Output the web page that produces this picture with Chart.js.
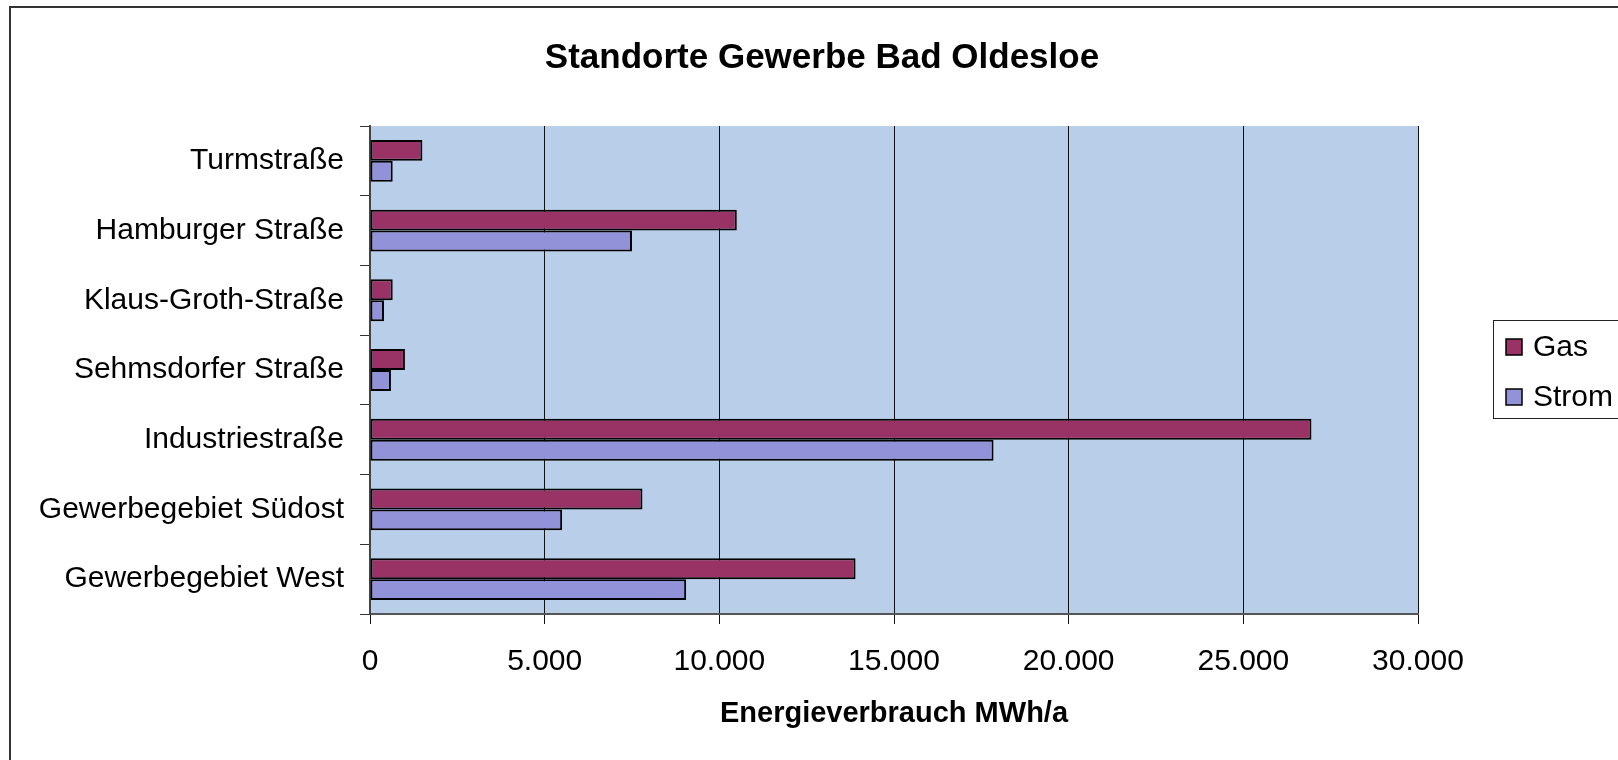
<!DOCTYPE html>
<html>
<head>
<meta charset="utf-8">
<title>Standorte Gewerbe Bad Oldesloe</title>
<script src="https://cdn.jsdelivr.net/npm/chart.js@4.4.1/dist/chart.umd.min.js"></script>
<style>
    html, body { margin: 0; padding: 0; background: #fff; }
    #chart { display: block; }
</style>
</head>
<body>
<canvas id="chart" width="1618" height="760"></canvas>
<script>
'use strict'
// Standorte (Kategorien)
const standorte = ['Turmstraße', 'Hamburger Straße', 'Klaus-Groth-Straße', 'Sehmsdorfer Straße',
    'Industriestraße', 'Gewerbegebiet Südost', 'Gewerbegebiet West'];
// Gas MWh/a
const gas = [1500, 10500, 650, 1000, 26950, 7800, 13900];
// Strom MWh/a
const strom = [650, 7500, 400, 600, 17850, 5500, 9050];
// x-Achse
const xMin = 0;
const xMax = 30000;
const xStep = 5000;

const FONT = '"Liberation Sans", Arial, sans-serif';

//==================================================================================================

/*Zahl mit Tausenderpunkt */
function toGerman(v) {
    return String(v).replace(/\B(?=(\d{3})+(?!\d))/g, '.');
}

/*Hintergrund, Rahmen und Plotfläche */
const backgroundPlugin = {
    id: 'background',
    beforeDraw(chart) {
        const ctx = chart.ctx;
        const a = chart.chartArea;
        ctx.save();
        ctx.fillStyle = '#fff';
        ctx.fillRect(0, 0, chart.width, chart.height);
        ctx.fillStyle = '#B9CEE9';
        ctx.fillRect(a.left, a.top, a.right - a.left, a.bottom - a.top);
        ctx.strokeStyle = '#333';
        ctx.lineWidth = 2;
        ctx.strokeRect(10, 7, 1700, 800);
        ctx.restore();
    }
};

/*Legende mit Rahmen rechts */
const legendPlugin = {
    id: 'boxLegend',
    afterDraw(chart) {
        const ctx = chart.ctx;
        ctx.save();
        ctx.strokeStyle = '#222';
        ctx.lineWidth = 1;
        ctx.strokeRect(1493.5, 320.5, 200, 98);
        ctx.font = '30px ' + FONT;
        ctx.textBaseline = 'middle';
        ctx.textAlign = 'left';
        chart.data.datasets.forEach((ds, i) => {
            const y = 347 + i * 50;
            ctx.fillStyle = ds.backgroundColor;
            ctx.fillRect(1506, y - 8, 16, 16);
            ctx.strokeStyle = '#000';
            ctx.lineWidth = 1.5;
            ctx.strokeRect(1506, y - 8, 16, 16);
            ctx.fillStyle = '#000';
            ctx.fillText(ds.label, 1533, y + 1);
        });
        ctx.restore();
    }
};

//==================================================================================================

new Chart(document.getElementById('chart'), {
    type: 'bar',
    data: {
        labels: standorte,
        datasets: [
            {
                label: 'Gas',
                data: gas,
                backgroundColor: '#993366',
                borderColor: '#000',
                borderWidth: 2,
                borderSkipped: false
            },
            {
                label: 'Strom',
                data: strom,
                backgroundColor: '#9292D8',
                borderColor: '#000',
                borderWidth: 2,
                borderSkipped: false
            }
        ]
    },
    options: {
        indexAxis: 'y',
        responsive: false,
        animation: false,
        datasets: {
            bar: { categoryPercentage: 0.6, barPercentage: 1.0 }
        },
        layout: {
            padding: { left: 26, right: 0, top: 0, bottom: 26 }
        },
        plugins: {
            legend: { display: false },
            tooltip: { enabled: false },
            title: {
                display: true,
                text: 'Standorte Gewerbe Bad Oldesloe',
                color: '#000',
                font: { family: FONT, size: 35, weight: 'bold' },
                padding: { top: 37, bottom: 47 }
            }
        },
        scales: {
            x: {
                min: xMin,
                max: xMax,
                afterFit(scale) { scale.height = 120; },
                ticks: {
                    stepSize: xStep,
                    color: '#000',
                    padding: 20,
                    font: { family: FONT, size: 30 },
                    callback: (v) => toGerman(v)
                },
                grid: {
                    color: '#111',
                    lineWidth: 1,
                    tickLength: 10,
                    drawOnChartArea: true
                },
                border: { color: '#555', width: 2 },
                title: {
                    display: true,
                    text: 'Energieverbrauch MWh/a',
                    color: '#000',
                    font: { family: FONT, size: 29, weight: 'bold' },
                    padding: { top: 0, bottom: 3 }
                }
            },
            y: {
                afterFit(scale) { scale.width = 344; },
                ticks: {
                    color: '#000',
                    padding: 16,
                    font: { family: FONT, size: 30 }
                },
                grid: {
                    color: '#333',
                    lineWidth: 1,
                    tickLength: 10,
                    drawOnChartArea: false,
                    offset: true
                },
                border: { color: '#444', width: 2 }
            },
            // Platz rechts für die Legende
            yRight: {
                position: 'right',
                afterFit(scale) { scale.width = 200; },
                ticks: { display: false },
                grid: { display: false },
                border: { display: false }
            }
        }
    },
    plugins: [backgroundPlugin, legendPlugin]
});
</script>
</body>
</html>
